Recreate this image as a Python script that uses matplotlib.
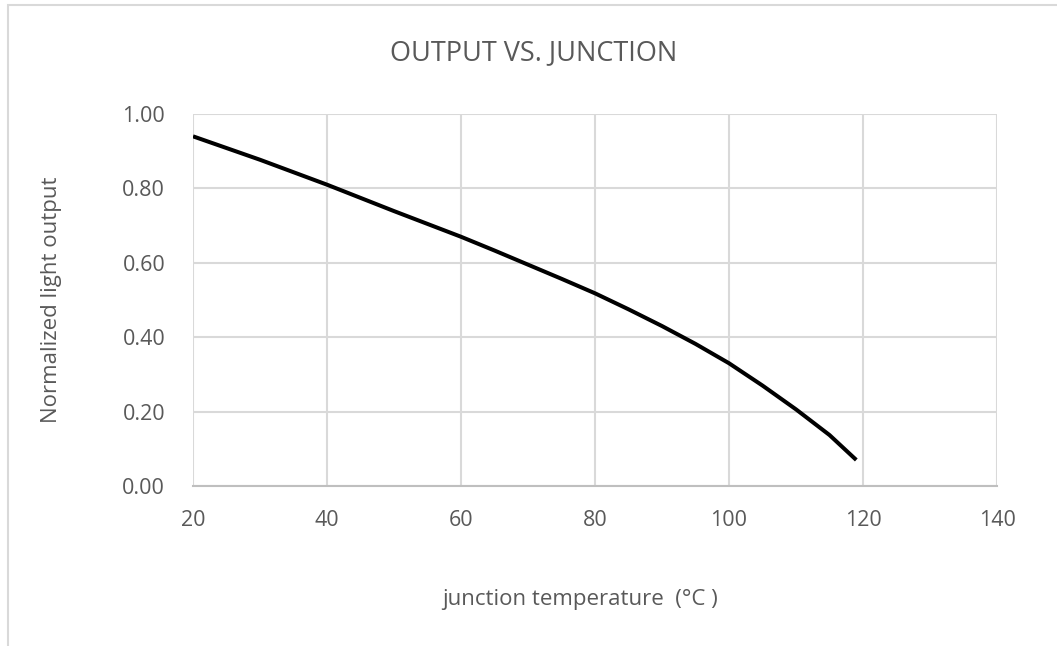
import numpy as np
import matplotlib
matplotlib.use("Agg")
import matplotlib.pyplot as plt
from matplotlib.patches import Rectangle

# ===============================
# Data
# ===============================
temp_c = [20, 30, 40, 50, 60, 65, 70, 75, 80, 85, 90, 95, 100, 105, 110, 115, 119]
light_out = [0.94, 0.877, 0.81, 0.739, 0.67, 0.633, 0.595, 0.557, 0.518, 0.475,
             0.43, 0.382, 0.33, 0.27, 0.206, 0.137, 0.07]

x_ticks = [20, 40, 60, 80, 100, 120, 140]
y_ticks = [0.0, 0.2, 0.4, 0.6, 0.8, 1.0]

title = "OUTPUT VS. JUNCTION"
x_label = "junction temperature  (°C )"
y_label = "Normalized light output"

# ===============================
# Style
# ===============================
plt.rcParams["font.family"] = ["Open Sans", "DejaVu Sans"]
text_col = "#595959"
grid_col = "#d9d9d9"
W, H = 1057, 646

fig = plt.figure(figsize=(10.57, 6.46), dpi=100)
ax = fig.add_axes([193 / W, 1 - 486 / H, (997 - 193) / W, (486 - 114) / H])

# chart-area border (cropped on right and bottom)
fig.patches.append(Rectangle((8 / W, -0.05), 1.2, 1 - 5 / H + 0.05,
                             transform=fig.transFigure, fill=False,
                             edgecolor=grid_col, linewidth=1.5))

ax.plot(temp_c, light_out, color="black", linewidth=2.9,
        solid_capstyle="butt", solid_joinstyle="round", zorder=3)

ax.set_xlim(20, 140)
ax.set_ylim(0, 1)
ax.set_xticks(x_ticks)
ax.set_yticks(y_ticks)
ax.set_yticklabels([f"{v:.2f}" for v in y_ticks])

ax.grid(True, color=grid_col, linewidth=1.5)
ax.set_axisbelow(True)
for side in ["top", "left", "right"]:
    ax.spines[side].set_visible(False)
ax.spines["bottom"].set_color("#bfbfbf")
ax.spines["bottom"].set_linewidth(1.5)

ax.tick_params(axis="both", length=0, labelsize=15.5, labelcolor=text_col)
ax.tick_params(axis="y", pad=20)
ax.tick_params(axis="x", pad=17)

# titles placed in figure coords (Excel centers the title on the chart area)
fig.text(534 / W, 1 - 53 / H, title, fontsize=19.5, color=text_col,
         ha="center", va="center")
fig.text(580 / W, 1 - 600 / H, x_label, fontsize=16, color=text_col,
         ha="center", va="center")
fig.text(52 / W, 1 - 300 / H, y_label, fontsize=16, color=text_col,
         ha="center", va="center", rotation=90)

plt.savefig("out.png", dpi=100)
